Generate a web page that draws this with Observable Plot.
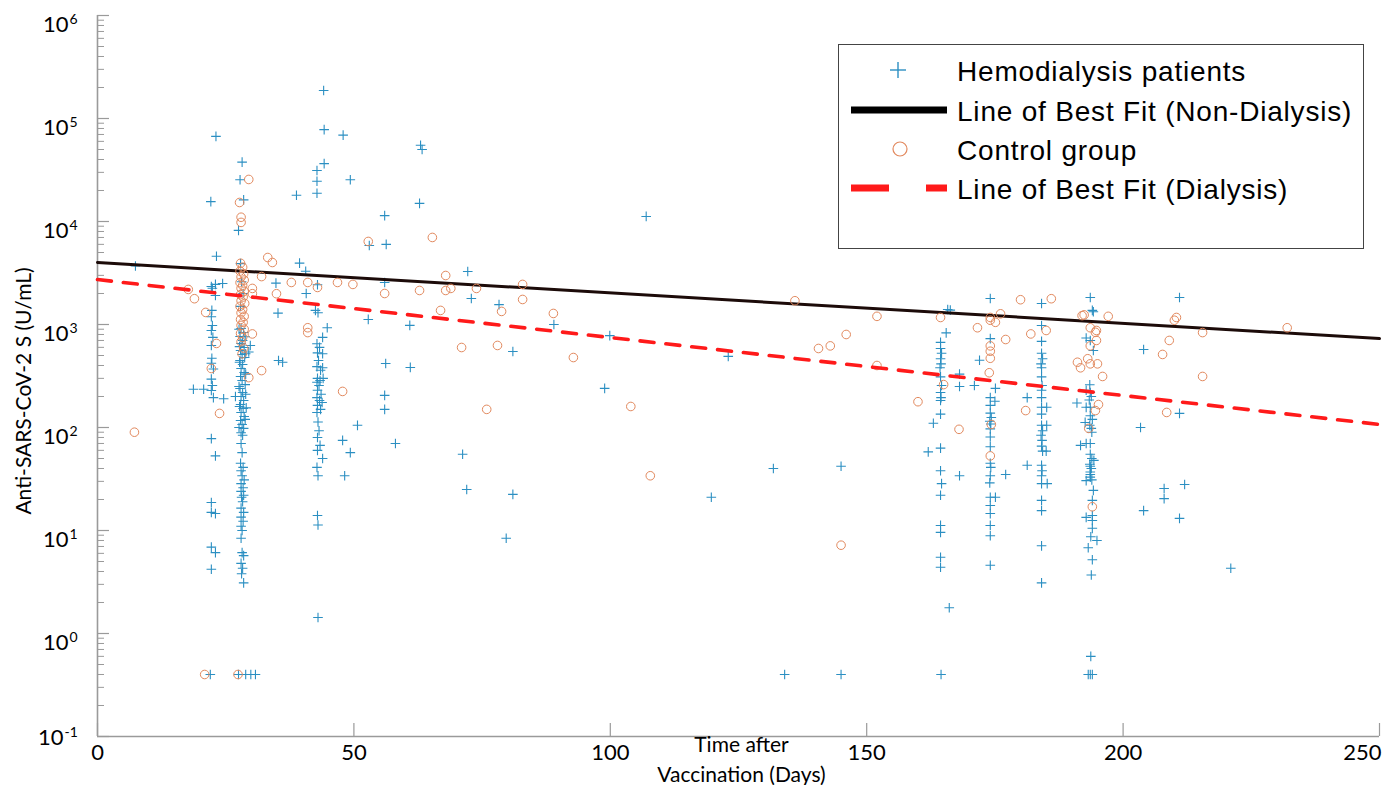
<!DOCTYPE html>
<html>
<head>
<meta charset="utf-8">
<script src="https://cdn.jsdelivr.net/npm/d3@7"></script>
<script src="https://cdn.jsdelivr.net/npm/@observablehq/plot@0.6"></script>
<style>
html, body { margin: 0; padding: 0; background: #fff; }
#wrap { position: relative; width: 1399px; height: 785px; overflow: hidden; background: #fff; }
#legend { position: absolute; left: 838px; top: 44px; width: 524px; height: 203px; border: 1.5px solid #444; background: #fff;
  font-family: "Liberation Sans", Arial, Helvetica, sans-serif; font-size: 28px; letter-spacing: 0.8px; color: #000; }
.row { position: absolute; left: 0; width: 100%; height: 40px; }
.row svg { position: absolute; left: 0; top: 0; }
.row span { position: absolute; left: 118px; top: calc(50% + 2px); transform: translateY(-50%); white-space: nowrap; line-height: 1; }
#ytitle { position: absolute; left: 22px; top: 391px; transform: translate(-50%, -50%) rotate(-90deg); white-space: nowrap;
  font-family: Lato, "Open Sans", sans-serif; font-size: 21px; color: #000; line-height: 1; }
</style>
</head>
<body>
<div id="wrap"></div>
<script>
// ---------- Data (day after vaccination, antibody titre U/mL) ----------
const hemoCol23 = [
  [23.1,67000],[22.1,15600],[23.2,4600],[22.2,2340],[24.4,2500],[23.0,2450],[22.4,2250],[23.0,1910],[22.3,1370],[22.2,1190],
  [22.4,977],[22.2,875],[22.5,750],[22.2,625],[22.3,470],[22.2,420],[22.6,370],[22.2,295],[22.4,256],[22.2,229],[22.6,195],
  [18.7,235],[20.7,235],[24.6,190],[22.2,78],[23.0,53],[22.2,18.7],[22.2,15],[23.0,14.6],[22.2,6.9],[23.0,6.1],[22.2,4.2],[22.0,0.4]
];
const hemoCol28 = [
  [28.2,37700],[27.8,25400],[28.5,16200],[27.5,8200],[27.9,3900],[28.1,2600],[28.4,2000],[27.9,1500],
  [28.0,915],[28.5,836],[27.8,764],[28.3,700],[28.0,654],[28.6,598],[27.9,560],[28.2,512],[28.7,479],[27.8,447],[28.3,409],
  [28.0,374],[28.6,342],[27.9,313],[28.2,286],[28.8,261],[27.8,239],[28.3,219],[28.0,200],[28.5,183],[27.9,167],[28.4,153],
  [28.0,140],[28.6,128],[27.9,117],[28.2,107],[28.5,98],[28.0,89],[28.3,84],[28.0,70],[28.2,57],[27.9,45],[28.4,41],[28.0,38],
  [28.2,34],[28.6,31],[28.0,28.5],[28.4,26],[28.0,24],[28.5,22],[28.1,21],[28.3,19],[28.0,16.5],[28.5,15],[28.0,13.5],
  [28.4,12.3],[28.0,11],[28.2,10],[28.0,8.4],[28.2,6.1],[28.5,5.7],[28.0,4.8],[28.3,4.3],[28.1,3.8],[28.5,3.1],
  [27.6,900],[28.8,760],[27.7,610],[28.9,520],[27.7,430],[28.9,330],[27.6,250],[28.9,210],[27.7,160],[28.8,120],[27.6,100],
  [26.9,200],[29.8,625],[29.5,540],[29.0,155],[27.5,0.4],[28.9,0.4],[29.9,0.4],[30.8,0.4]
];
const hemoCol43 = [
  [44.1,187000],[44.2,78000],[47.9,69000],[44.2,36500],[42.8,31300],[42.8,24600],[49.3,25400],[42.8,18800],[38.8,18000],
  [39.4,3940],[40.6,3290],[34.8,2520],[35.2,1290],[42.9,2430],[40.7,2000],
  [42.5,1370],[43.0,1300],[44.8,929],[43.9,750],[42.8,650],[43.3,600],[42.9,530],[43.1,447],[42.8,390],[43.5,360],[42.9,300],
  [43.4,286],[42.8,275],[43.2,256],[42.9,230],[43.6,210],[42.8,195],[43.3,183],[42.9,164],[43.5,150],[42.8,140],[43.0,113],
  [43.2,93],[42.9,80],[43.4,67],[42.9,60],[43.9,50],[42.8,41],[43.0,34],[42.9,14],[43.0,11.3],[43.0,1.43],
  [43.9,520],[43.9,380],[44.0,300],[43.8,175],
  [47.8,75],[49.3,57],[48.2,34],[50.7,105],[35.3,447],[36.1,430]
];
const hemoCol165 = [
  [165.8,1400],[166.3,1380],[165.5,830],[164.4,670],[164.4,585],[164.6,525],[164.4,465],[164.5,415],[164.3,380],[164.4,310],
  [164.6,256],[164.4,219],[164.5,195],[164.4,183],[164.4,135],[164.4,63],[164.4,38],[164.6,28.5],[164.4,22],[164.4,11.2],
  [164.4,9.6],[164.4,5.5],[164.4,4.4],[166.1,1.78],[164.5,0.4],
  [163.0,110],[162.0,58],[168.1,330],[168.1,250],[171.0,256],[172.0,450],[168.1,34]
];
const hemoCol174 = [
  [174.1,1790],[174.1,730],[175.1,240],[175.0,180],[174.1,195],[174.1,164],[174.1,138],[174.3,125],[174.0,115],[174.2,108],
  [174.1,97],[174.1,81],[174.1,65],[174.1,45],[174.2,41],[174.1,34],[174.0,29],[174.1,21],[175.1,21],[174.1,17.5],
  [174.1,14.6],[174.1,11.2],[174.1,8.9],[174.1,4.6],[177.1,35]
];
const hemoCol184 = [
  [184.1,1600],[184.1,977],[184.1,685],[184.1,525],[184.3,465],[184.0,415],[184.1,380],[184.1,310],[184.2,256],[184.1,230],
  [184.1,195],[184.1,157],[184.1,135],[184.1,105],[184.3,93],[184.0,84],[184.2,75],[184.1,66],[184.3,59],[184.1,43],
  [184.2,38],[184.1,34],[184.1,28.5],[184.1,19.6],[184.1,15.6],[184.1,7.1],[184.1,3.1],
  [181.3,195],[181.3,43],[185.1,157],[185.2,28.5],[185.0,59],[185.1,105]
];
const hemoCol194 = [
  [193.6,1830],[194.0,1370],[194.2,1330],[192.8,740],[193.6,700],[194.2,560],[193.5,260],[192.8,230],[193.6,219],[193.8,200],
  [193.4,185],[191.0,173],[192.8,157],[193.6,157],[193.6,130],[194.0,120],[192.6,112],[193.5,105],[193.8,98],[193.9,90],
  [192.8,70],[193.6,70],[191.7,67],[193.6,55],[193.9,50],[194.3,48],[193.5,44],[193.6,42],[193.8,40],[193.6,37],[193.6,35],
  [193.6,33],[193.9,31],[192.8,30.5],[194.2,24.5],[194.0,19.6],[194.0,14],[192.8,13.4],[194.0,12.5],[194.0,10.5],[193.7,8.7],
  [194.9,8],[193.2,6.8],[194.0,5.2],[193.8,3.7],[193.7,0.6],[193.2,0.4],[193.6,0.4],[194.0,0.4]
];
const hemoScatter = [
  [7.4,3700],[62.8,15000],[63.0,55000],[63.3,50000],[56.0,11400],[53.0,5850],[56.3,6000],[72.2,3270],[56.0,2560],[72.9,1790],
  [78.3,1560],[52.8,1120],[60.9,980],[89.0,1000],[99.9,780],[81.0,547],[56.2,418],[61.0,383],[98.9,240],[56.0,205],[56.0,150],
  [58.1,70],[71.2,55],[72.0,25],[81.0,22.4],[79.7,8.4],[107.0,11200],[119.7,21],[123.0,490],[131.8,40],[134.0,0.4],
  [145.0,0.4],[145.0,42],
  [211,1830],[204,572],[211,137],[203.4,100],[208,25.6],[208,20.4],[212,28],[204,15.6],[211,13.1],[221,4.3]
];
const controlCol28 = [
  [27.9,3930],[28.3,3600],[27.8,3300],[28.5,3100],[28.0,2900],[28.6,2700],[27.8,2550],[28.3,2400],[28.0,2250],[28.6,2100],
  [27.9,1950],[28.4,1850],[28.0,1700],[28.7,1600],[27.8,1500],[28.3,1400],[28.0,1300],[28.6,1200],[27.9,1120],[28.4,1050],
  [28.0,980],[28.6,900],[27.9,820],[28.3,750],[28.0,680],[28.5,590],[28.2,520]
];
const controlScatter = [
  [29.5,25600],[27.7,15300],[28.0,11000],[28.0,9800],[33.2,4470],[34.1,4000],[17.7,2190],[18.9,1780],[21.1,1310],[30.2,2240],
  [30.2,1990],[32.0,2920],[34.9,1990],[37.8,2560],[41.0,2560],[42.9,2290],[41.0,930],[41.0,835],[23.2,655],[30.2,810],
  [22.2,374],[32.0,357],[29.5,305],[23.8,137],[46.8,2560],[49.8,2450],[56.0,2000],[62.8,2140],[67.9,2990],[67.9,2140],
  [68.9,2240],[73.9,2240],[82.9,2450],[82.9,1750],[66.9,1370],[78.8,1340],[88.9,1280],[71.0,598],[78.0,626],[92.8,478],
  [47.8,224],[75.9,150],[104.0,160],[107.8,34],[52.8,6400],[65.3,7000],[7.2,90],[20.9,0.4],[27.4,0.4],
  [136.0,1700],[140.6,585],[142.9,620],[146.0,800],[152.0,1200],[152.0,400],[145.0,7.2],[160.0,178],[164.4,1170],[165.0,261],[168.0,96],
  [171.6,930],[174.1,1170],[174.1,1100],[175.1,1050],[176.1,1270],[177.1,715],[174.1,620],[174.1,550],[174.1,470],[173.9,340],
  [174.3,107],[174.1,53],
  [185.0,875],[182.0,810],[181.0,146],[180.0,1740],[186.0,1780],
  [192.0,1220],[192.4,1240],[197.1,1200],[193.6,930],[194.8,875],[194.6,840],[194.8,700],[193.6,620],[191.1,430],[191.7,380],
  [193.1,465],[193.6,415],[195.0,415],[196.0,313],[195.2,167],[194.6,146],[193.3,98],[194.0,17],
  [210,1100],[210.4,1170],[209,700],[215.5,835],[207.7,512],[215.5,313],[208.5,140],[232,930]
];
const fitDays = [0, 250];
const fitNonDialysis = [4000, 730];
const fitDialysis = [2730, 107];

const xTickValues = [0, 50, 100, 150, 200, 250];
const yTickValues = [0.1, 1, 10, 100, 1000, 10000, 100000, 1000000];
const yTickExponents = ["-1", "0", "1", "2", "3", "4", "5", "6"];
const minorMultipliers = [2, 3, 4, 5, 6, 7, 8, 9];

const legendLabels = ["Hemodialysis patients", "Line of Best Fit (Non-Dialysis)", "Control group", "Line of Best Fit (Dialysis)"];
const yTitle = "Anti-SARS-CoV-2 S (U/mL)";
const xTitleLines = ["Time after", "Vaccination (Days)"];

// ---------- Build ----------
const toRows = arr => arr.map(([day, value]) => ({day, value}));
const hemo = toRows([...hemoCol23, ...hemoCol28, ...hemoCol43, ...hemoCol165, ...hemoCol174, ...hemoCol184, ...hemoCol194, ...hemoScatter]);
const control = toRows([...controlCol28, ...controlScatter]);
const fitNon = fitDays.map((d, i) => ({day: d, value: fitNonDialysis[i]}));
const fitDia = fitDays.map((d, i) => ({day: d, value: fitDialysis[i]}));
const yMinor = yTickValues.slice(0, -1).flatMap(t => minorMultipliers.map(m => t * m));

const W = 1399, H = 785, mL = 97, mR = 20, mT = 15, mB = 49;
const plotW = W - mL - mR, plotH = H - mT - mB;
const axisColor = "#9a9a9a";
const hemoColor = "#2b8fc2";
const ctrlColor = "#e2895e";

const chart = Plot.plot({
  width: W, height: H,
  marginLeft: mL, marginRight: mR, marginTop: mT, marginBottom: mB,
  x: {domain: [0, 250], axis: null},
  y: {type: "log", domain: [0.1, 1e6], axis: null},
  style: {fontFamily: "Lato, 'Open Sans', sans-serif", background: "#fff", color: "#000"},
  marks: [
    // axes
    Plot.ruleY(yMinor, {y: d => d, insetRight: plotW - 7, stroke: axisColor, strokeWidth: 1}),
    Plot.ruleY(yTickValues, {y: d => d, insetRight: plotW - 12, stroke: axisColor, strokeWidth: 1.2}),
    Plot.ruleX(xTickValues, {x: d => d, insetTop: plotH - 13, stroke: axisColor, strokeWidth: 1.2}),
    Plot.ruleX([0], {x: d => d, stroke: axisColor, strokeWidth: 1.6}),
    Plot.ruleY([0.1], {y: d => d, stroke: axisColor, strokeWidth: 1.6}),
    // data
    Plot.dot(hemo, {x: "day", y: "value", symbol: "plus", r: 3.2, stroke: hemoColor, strokeWidth: 1.1}),
    Plot.line(fitNon, {x: "day", y: "value", stroke: "#1c0b09", strokeWidth: 3}),
    Plot.dot(control, {x: "day", y: "value", r: 4.3, stroke: ctrlColor, fill: "none", strokeWidth: 1}),
    Plot.line(fitDia, {x: "day", y: "value", stroke: "#ff1a1a", strokeWidth: 3.6, strokeDasharray: "14,12"}),
    // x tick labels
    Plot.text(xTickValues.slice(0, -1), {x: d => d, text: d => String(d), frameAnchor: "bottom", dy: 23, fontSize: 22, fill: "#000"}),
    Plot.text(xTickValues.slice(-1), {x: d => d, text: d => String(d), frameAnchor: "bottom", textAnchor: "end", dy: 23, dx: 2, fontSize: 22, fill: "#000"}),
    // y tick labels (10 with superscript exponent)
    Plot.text(yTickValues.slice(1), {y: d => d, text: () => "10", frameAnchor: "left", textAnchor: "end", dx: -29, dy: 9, fontSize: 22, fill: "#000"}),
    Plot.text(yTickValues.slice(1), {y: d => d, text: (d, i) => yTickExponents[i + 1], frameAnchor: "left", textAnchor: "start", dx: -28, dy: 4, fontSize: 14, fill: "#000"}),
    Plot.text(yTickValues.slice(0, 1), {y: d => d, text: () => "10", frameAnchor: "left", textAnchor: "end", dx: -34, dy: 1, fontSize: 22, fill: "#000"}),
    Plot.text(yTickValues.slice(0, 1), {y: d => d, text: () => yTickExponents[0], frameAnchor: "left", textAnchor: "start", dx: -33, dy: -4, fontSize: 14, fill: "#000"}),
    // x axis title
    Plot.text([xTitleLines[0]], {frameAnchor: "bottom", dx: 3, dy: 15, fontSize: 21, fill: "#000"}),
    Plot.text([xTitleLines[1]], {frameAnchor: "bottom", dx: 3, dy: 45, fontSize: 21, fill: "#000"})
  ]
});

const wrap = document.getElementById("wrap");
wrap.appendChild(chart);

// y axis title
const yt = document.createElement("div");
yt.id = "ytitle";
yt.textContent = yTitle;
wrap.appendChild(yt);

// ---------- Legend ----------
const legend = document.createElement("div");
legend.id = "legend";
const rowCenters = [25, 65, 104, 143];
const icons = [
  `<line x1="51" y1="20" x2="67" y2="20" stroke="${hemoColor}" stroke-width="1.4"/><line x1="59" y1="12" x2="59" y2="28" stroke="${hemoColor}" stroke-width="1.4"/>`,
  `<line x1="12" y1="20" x2="108" y2="20" stroke="#000" stroke-width="7"/>`,
  `<circle cx="61" cy="20" r="7" fill="none" stroke="${ctrlColor}" stroke-width="1.2"/>`,
  `<line x1="12" y1="20" x2="50" y2="20" stroke="#ff1a1a" stroke-width="7"/><line x1="87" y1="20" x2="108" y2="20" stroke="#ff1a1a" stroke-width="7"/>`
];
legendLabels.forEach((label, i) => {
  const row = document.createElement("div");
  row.className = "row";
  row.style.top = (rowCenters[i] - 20) + "px";
  row.innerHTML = `<svg width="118" height="40">${icons[i]}</svg><span>${label}</span>`;
  legend.appendChild(row);
});
wrap.appendChild(legend);
</script>
</body>
</html>
